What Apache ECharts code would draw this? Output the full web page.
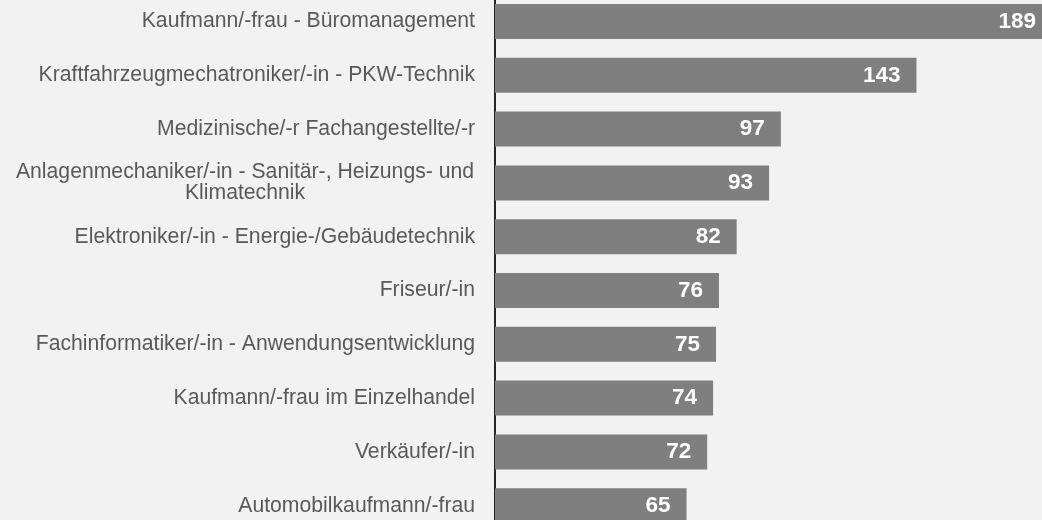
<!DOCTYPE html>
<html>
<head>
<meta charset="utf-8">
<script src="https://cdn.jsdelivr.net/npm/echarts@6/dist/echarts.min.js"></script>
<style>
html,body{margin:0;padding:0;background:#f2f2f2;}
#chart{width:1042px;height:520px;}
</style>
</head>
<body>
<div id="chart"></div>
<script>
const categories = [
  'Kaufmann/-frau - Büromanagement',
  'Kraftfahrzeugmechatroniker/-in - PKW-Technik',
  'Medizinische/-r Fachangestellte/-r',
  'Anlagenmechaniker/-in - Sanitär-, Heizungs- und\nKlimatechnik',
  'Elektroniker/-in - Energie-/Gebäudetechnik',
  'Friseur/-in',
  'Fachinformatiker/-in - Anwendungsentwicklung',
  'Kaufmann/-frau im Einzelhandel',
  'Verkäufer/-in',
  'Automobilkaufmann/-frau'
];
const values = [189, 143, 97, 93, 82, 76, 75, 74, 72, 65];

const chart = echarts.init(document.getElementById('chart'));
chart.setOption({
  backgroundColor: '#f2f2f2',
  animation: false,
  textStyle: { fontFamily: '"Liberation Sans", Arial, sans-serif' },
  grid: { left: 495, right: -10, top: -5.4, height: 538, containLabel: false, outerBoundsMode: 'none' },
  xAxis: {
    type: 'value', min: 0, max: 189, show: false
  },
  yAxis: {
    type: 'category', data: categories, inverse: true,
    axisLine: { show: true, lineStyle: { color: '#262626', width: 2 } },
    axisTick: { show: false },
    axisLabel: {
      margin: 20,
      formatter: function (v) {
        const parts = v.split('\n');
        if (parts.length > 1) {
          return parts.map(p => '{m|' + p + '}').join('\n');
        }
        return '{a|' + v + '}';
      },
      rich: {
        a: { fontSize: 21.2, color: '#595959', fontFamily: '"Liberation Sans", Arial, sans-serif' },
        m: { fontSize: 21.2, color: '#595959', width: 460, align: 'center', lineHeight: 21, fontFamily: '"Liberation Sans", Arial, sans-serif' }
      }
    }
  },
  series: [{
    type: 'bar',
    data: values,
    barWidth: 35,
    itemStyle: { color: '#7f7f7f' },
    label: {
      show: true, position: 'insideRight', distance: 16,
      color: '#ffffff', fontWeight: 'bold', fontSize: 22.5,
      fontFamily: '"Liberation Sans", Arial, sans-serif'
    }
  }]
});
</script>
</body>
</html>
